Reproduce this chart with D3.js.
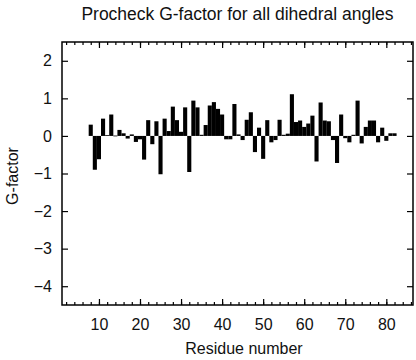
<!DOCTYPE html>
<html>
<head>
<meta charset="utf-8">
<script src="https://cdn.jsdelivr.net/npm/d3@7"></script>
<style>
  html, body { margin: 0; padding: 0; background: #fff; }
  svg { display: block; }
  text { font-family: "Liberation Sans", Arial, Helvetica, sans-serif; fill: #111; }
</style>
</head>
<body>
<script>
const title = "Procheck G-factor for all dihedral angles";
const xTitle = "Residue number";
const yTitle = "G-factor";
const residues = d3.range(8, 83);
const gFactor = [
  0.30, -0.90, -0.62, 0.46, 0.02, 0.57, 0.01, 0.16, 0.07, -0.07,
  0.04, -0.16, -0.09, -0.63, 0.42, -0.22, 0.39, -1.02, 0.46, 0.13,
  0.78, 0.42, 0.11, 0.76, -0.96, 0.94, 0.76, 0.03, 0.29, 0.81,
  0.90, 0.72, 0.57, -0.09, -0.09, 0.85, 0.04, -0.11, 0.43, 0.63,
  -0.43, 0.22, -0.61, 0.42, -0.17, -0.11, 0.43, 0.03, 0.06, 1.11,
  0.37, 0.41, 0.24, 0.33, 0.54, -0.68, 0.89, 0.41, 0.39, -0.11,
  -0.72, 0.57, -0.06, -0.17, 0.03, 0.94, -0.20, 0.24, 0.41, 0.41,
  -0.17, 0.22, -0.13, 0.07, 0.07
];
const xMajorTicks = [10, 20, 30, 40, 50, 60, 70, 80];
const xMinorTicks = d3.range(2, 87, 2);
const yTicks = [2, 1, 0, -1, -2, -3, -4];

const W = 416, H = 360;
const L = 62, R = 413, T = 42, B = 305;

const svg = d3.select("body").append("svg").attr("width", W).attr("height", H);

const x = d3.scaleLinear().domain([1, 86.5]).range([L, R]);
const y = d3.scaleLinear().domain([-4.5, 2.5]).range([B, T]);
const bw = x(2) - x(1);

// bars
svg.append("g").selectAll("rect")
  .data(residues.map((r, i) => ({ r, v: gFactor[i] })))
  .join("rect")
  .attr("x", d => x(d.r) - bw / 2)
  .attr("width", bw)
  .attr("y", d => Math.min(y(d.v), y(0)))
  .attr("height", d => Math.max(0.8, Math.abs(y(d.v) - y(0))))
  .attr("fill", "#000");

// axes (ticks inward)
const tickStyle = g => g.call(s => s.select(".domain").remove())
  .selectAll("line").attr("stroke", "#000").attr("stroke-width", 1.2);

// bottom minor + major
svg.append("g").attr("transform", `translate(0,${B})`)
  .call(d3.axisBottom(x).tickValues(xMinorTicks).tickSize(-3).tickFormat(""))
  .call(tickStyle);
svg.append("g").attr("transform", `translate(0,${B})`)
  .call(d3.axisBottom(x).tickValues(xMajorTicks).tickSize(-6).tickPadding(14).tickFormat(d3.format("d")))
  .call(tickStyle)
  .call(g => g.selectAll("text").attr("font-size", 16).attr("fill", "#111"));
// top minor + major
svg.append("g").attr("transform", `translate(0,${T})`)
  .call(d3.axisTop(x).tickValues(xMinorTicks).tickSize(-3).tickFormat(""))
  .call(tickStyle);
svg.append("g").attr("transform", `translate(0,${T})`)
  .call(d3.axisTop(x).tickValues(xMajorTicks).tickSize(-6).tickFormat(""))
  .call(tickStyle);
// left
svg.append("g").attr("transform", `translate(${L},0)`)
  .call(d3.axisLeft(y).tickValues(yTicks).tickSize(-6).tickPadding(10).tickFormat(d3.format("d")))
  .call(tickStyle)
  .call(g => g.selectAll("text").attr("font-size", 16).attr("fill", "#111"));
// right
svg.append("g").attr("transform", `translate(${R},0)`)
  .call(d3.axisRight(y).tickValues(yTicks).tickSize(-6).tickFormat(""))
  .call(tickStyle);

// frame
svg.append("rect")
  .attr("x", L).attr("y", T).attr("width", R - L).attr("height", B - T)
  .attr("fill", "none").attr("stroke", "#000").attr("stroke-width", 1.5);

// titles
svg.append("text").attr("x", (L + R) / 2).attr("y", 20)
  .attr("text-anchor", "middle").attr("font-size", 17.5).text(title);
svg.append("text").attr("x", 244).attr("y", 354)
  .attr("text-anchor", "middle").attr("font-size", 16).text(xTitle);
svg.append("text").attr("transform", `translate(18,176) rotate(-90)`)
  .attr("text-anchor", "middle").attr("font-size", 16).text(yTitle);
</script>
</body>
</html>
